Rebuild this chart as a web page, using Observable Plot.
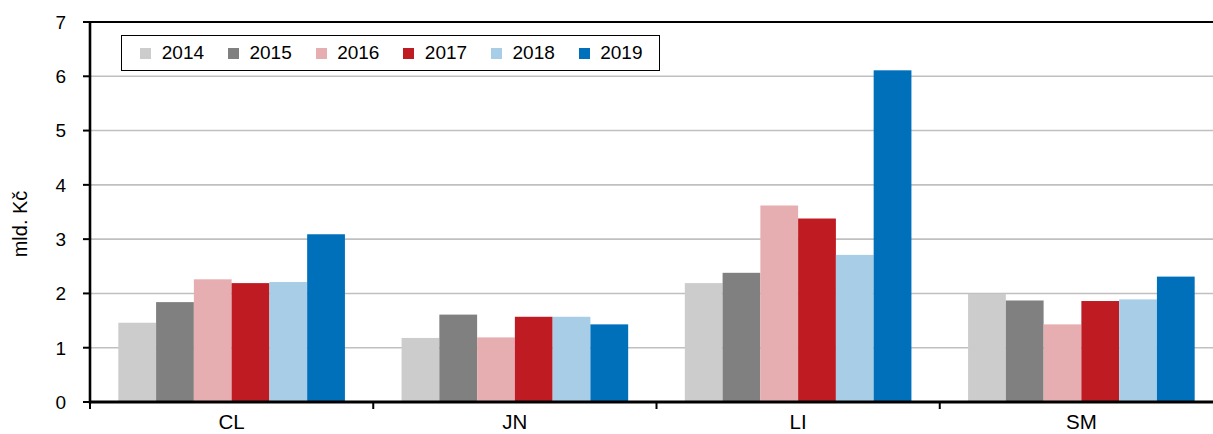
<!DOCTYPE html>
<html><head><meta charset="utf-8">
<script src="https://cdn.jsdelivr.net/npm/d3@7"></script>
<script src="https://cdn.jsdelivr.net/npm/@observablehq/plot@0.6"></script>
<style>
html,body{margin:0;padding:0;background:#fff;overflow:hidden;width:1213px;height:434px;}
#wrap{position:relative;width:1223px;height:434px;overflow:hidden;}
#wrap svg{max-width:none !important;}
#legend{position:absolute;left:121px;top:35px;width:539px;height:36px;box-sizing:border-box;border:1.5px solid #000;background:#fff;display:flex;align-items:center;padding-left:18.2px;font-family:"Liberation Sans",Arial,sans-serif;font-size:19px;color:#000;}
#legend .item{display:flex;align-items:center;width:87.7px;flex:none;}
#legend .sw{width:11px;height:11px;margin-right:10.6px;flex:none;}
</style></head><body><div id="wrap"><div id="legend"></div></div>
<script>
const regions = ["CL", "JN", "LI", "SM"];
const years = ["2014", "2015", "2016", "2017", "2018", "2019"];
const colors = ["#cccccc", "#808080", "#e6aeb1", "#be1b23", "#a7cde7", "#0070bb"];
const v2014 = [1.46, 1.18, 2.19, 1.99];
const v2015 = [1.84, 1.61, 2.38, 1.87];
const v2016 = [2.26, 1.19, 3.62, 1.43];
const v2017 = [2.19, 1.57, 3.38, 1.86];
const v2018 = [2.21, 1.57, 2.71, 1.89];
const v2019 = [3.09, 1.43, 6.11, 2.31];
const yTicks = [0, 1, 2, 3, 4, 5, 6, 7];
const yLabel = "mld. Kč";

const series = [v2014, v2015, v2016, v2017, v2018, v2019];
const data = regions.flatMap((r, i) => years.map((yr, j) => ({region: r, year: yr, value: series[j][i]})));

const chart = Plot.plot({
  width: 1223,
  height: 434,
  marginLeft: 90,
  marginRight: 0,
  marginTop: 22,
  marginBottom: 32,
  style: {fontFamily: "'Liberation Sans', Arial, sans-serif", fontSize: "19px", color: "#000", background: "#fff", overflow: "visible", maxWidth: "none"},
  fx: {domain: regions, paddingInner: 0.2, paddingOuter: 0.1, round: false, axis: null},
  x: {domain: years, padding: 0, round: false, axis: null},
  y: {domain: [0, 7], axis: null},
  color: {domain: years, range: colors},
  marks: [
    Plot.barY(data, {fx: "region", x: "year", y: "value", fill: "year", inset: 0})
  ]
});

const wrap = document.getElementById("wrap");
wrap.insertBefore(chart, wrap.firstChild);

// overlay elements drawn from the plot's own scales
const fxS = chart.scale("fx");
const yS = chart.scale("y");
const band = d3.scaleBand(fxS.domain, fxS.range).paddingInner(fxS.paddingInner ?? 0.2).paddingOuter(fxS.paddingOuter ?? 0.1).align(fxS.align ?? 0.5);
const yf = yS.apply ? yS.apply : d3.scaleLinear(yS.domain, yS.range);
const x0 = fxS.range[0], x1 = fxS.range[1];
const svg = d3.select(chart);

// gridlines behind bars
const grid = svg.insert("g", ":first-child");
yTicks.filter(t => t > 0 && t < 7).forEach(t => {
  grid.append("line").attr("x1", x0).attr("x2", x1).attr("y1", yf(t)).attr("y2", yf(t))
    .attr("stroke", "#c0c0c0").attr("stroke-width", 1.6);
});

// frame lines, y ticks and category boundary ticks
const fr = svg.append("g").attr("stroke", "#000");
const yTop = yf(7), yBot = yf(0);
fr.append("line").attr("x1", x0).attr("x2", x1).attr("y1", yTop).attr("y2", yTop).attr("stroke-width", 2);
fr.append("line").attr("x1", x0).attr("x2", x1).attr("y1", yBot).attr("y2", yBot).attr("stroke-width", 2.8);
fr.append("line").attr("x1", x0).attr("x2", x0).attr("y1", yTop - 1).attr("y2", yBot + 1.4).attr("stroke-width", 2.6);
yTicks.forEach(t => {
  fr.append("line").attr("x1", x0 - 7).attr("x2", x0).attr("y1", yf(t)).attr("y2", yf(t)).attr("stroke-width", 2);
});
const half = band.step() * band.paddingInner() / 2;
const bounds = regions.map(r => band(r) - half);
bounds.push(band(regions[regions.length - 1]) + band.bandwidth() + half);
bounds.forEach(b => {
  fr.append("line").attr("x1", b).attr("x2", b).attr("y1", yBot).attr("y2", yBot + 7).attr("stroke-width", 2);
});

// y tick labels
const tl = svg.append("g").attr("font-size", 19).attr("fill", "#000").attr("text-anchor", "end");
yTicks.forEach(t => {
  tl.append("text").text(String(t)).attr("x", x0 - 24).attr("y", yf(t)).attr("dy", "0.36em");
});

// category labels
const cl = svg.append("g").attr("font-size", 20.5).attr("fill", "#000").attr("text-anchor", "middle");
regions.forEach(r => {
  cl.append("text").text(r).attr("x", band(r) + band.bandwidth() / 2).attr("y", yBot + 27);
});

// y axis title
svg.append("text").text(yLabel)
  .attr("transform", `translate(20,${(yTop + yBot) / 2 + 12}) rotate(-90)`)
  .attr("text-anchor", "middle").attr("dominant-baseline", "central")
  .attr("font-size", 20).attr("fill", "#000");

// legend
const leg = d3.select("#legend");
years.forEach((yr, i) => {
  const it = leg.append("div").attr("class", "item");
  it.append("div").attr("class", "sw").style("background", colors[i]);
  it.append("span").text(yr);
});
</script>
</body></html>
